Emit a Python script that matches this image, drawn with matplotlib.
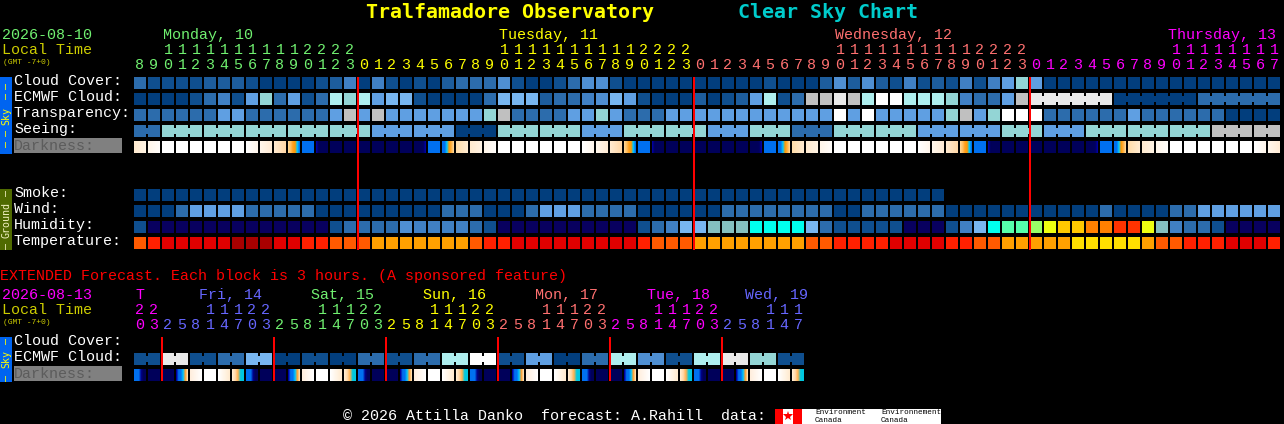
import numpy as np
import matplotlib
matplotlib.use('Agg')
import matplotlib.pyplot as plt
from matplotlib.colors import LinearSegmentedColormap

# colour indexes used by the sky/ground rows
BLOCK_COLORS = ['#023E7D', '#0F4F8F', '#1D5D9D', '#2C6CAC', '#4080C4', '#4F8FD2', '#5F9FE2',
                '#78B6F0', '#93D5D5', '#AEEEEE', '#E9E9E9', '#C0C0C0', '#FFFFFF', '#08005F',
                '#84BFBF', '#00FFEE', '#55FFAA', '#99FF66', '#EEFF11', '#FFC800', '#FF8000', '#FF3300']
TEMP_COLORS = ['#A80000', '#E00000', '#FF2000', '#FF5A00', '#FFA000', '#FFDF00']

GREEN = '#70F070'
YELLOW = '#FFFF00'
SALMON = '#FF7070'
MAGENTA = '#FF00FF'
BLUE = '#6666FF'

# main chart, one value per hour
CLOUD_COVER = [3, 1, 1, 1, 1, 2, 2, 2, 1, 0, 0, 0, 0, 1, 2, 4, 0, 4, 1, 0, 1,
               0, 2, 3, 3, 3, 5, 1, 0, 0, 1, 3, 5, 5, 1, 0, 0, 0, 0, 0, 0, 0, 0, 0, 0, 1, 0, 0, 0, 2, 5, 2,
               5, 2, 1, 4, 1, 2, 1, 4, 1, 4, 6, 8, 6, 0, 0, 0, 0, 0, 0, 0, 0, 0, 0, 0, 0, 0, 0, 0, 0, 0]
ECMWF_CLOUD = [0, 0, 0, 0, 1, 3, 4, 1, 6, 8, 3, 6, 1, 3, 9, 8, 9, 6, 7, 7, 1,
               0, 0, 0, 0, 3, 7, 7, 7, 2, 3, 3, 4, 5, 7, 6, 1, 0, 0, 0, 2, 0, 1, 2, 6, 9, 1, 3, 11, 11, 10, 11,
               9, 12, 12, 9, 9, 9, 8, 4, 3, 3, 6, 11, 10, 10, 10, 10, 10, 10, 0, 0, 0, 0, 0, 0, 3, 3, 3, 3, 3, 3]
ECMWF_SPANS = [1] * 64 + [6, 6, 6]
TRANSPARENCY = [3, 3, 3, 3, 3, 3, 6, 6, 3, 3, 3, 3, 3, 3, 6, 11, 6, 11, 6, 6, 6,
                6, 6, 6, 6, 8, 11, 3, 3, 3, 3, 6, 6, 8, 6, 3, 3, 3, 6, 6, 6, 6, 6, 6, 6, 6, 6, 6, 6, 6, 12, 6,
                12, 6, 6, 6, 6, 6, 8, 11, 6, 8, 12, 12, 12, 3, 3, 3, 3, 3, 3, 6, 3, 3, 3, 3, 3, 3, 0, 0, 0, 0]
# seeing comes in 3 hour groups
SEEING = [3, 8, 8, 8, 8, 8, 6, 6, 0, 8, 8, 6, 8, 8, 6, 8, 3, 8, 8, 6, 6, 8, 6, 8, 8, 8, 11, 11]
SEEING_SPANS = [2] + [3] * 26 + [2]
SMOKE = [0] * 58
WIND = [0, 0, 0, 3, 6, 6, 6, 6, 3, 3, 3, 3, 3, 0, 0, 0, 0, 0, 0, 0, 0,
        0, 3, 3, 3, 0, 0, 0, 3, 6, 6, 6, 3, 3, 3, 3, 0, 0, 0, 0, 0, 0, 3, 3, 3, 3, 3, 3, 3, 3, 0, 0,
        3, 3, 3, 3, 3, 3, 0, 0, 0, 0, 0, 0, 0, 0, 0, 0, 0, 3, 0, 0, 0, 0, 3, 3, 6, 6, 6, 6, 6, 6]
HUMIDITY = [1, 13, 13, 13, 13, 13, 13, 13, 13, 13, 13, 13, 13, 13, 1, 3, 3, 3, 3, 5, 4,
            4, 4, 4, 3, 1, 13, 13, 13, 13, 13, 13, 13, 13, 13, 13, 1, 3, 4, 7, 7, 14, 14, 14, 15, 15, 15, 15, 7, 3, 1, 1,
            1, 1, 1, 13, 13, 13, 1, 4, 7, 15, 16, 16, 17, 18, 19, 19, 20, 20, 21, 21, 18, 14, 4, 3, 3, 1, 13, 13, 13, 13]
TEMPERATURE = [3, 2, 1, 1, 1, 1, 1, 0, 0, 0, 1, 1, 2, 2, 3, 3, 3, 4, 4, 4, 4,
               4, 4, 4, 3, 2, 2, 1, 1, 1, 1, 1, 1, 1, 1, 1, 2, 3, 3, 3, 4, 4, 4, 4, 4, 4, 4, 4, 3, 3, 2, 2,
               2, 2, 1, 1, 1, 1, 2, 2, 3, 3, 4, 4, 4, 4, 4, 5, 5, 5, 5, 5, 4, 3, 3, 2, 2, 2, 1, 1, 1, 2]

# each darkness block is a little left to right ramp
DARK_RAMPS = [
    ['#FFFFFF', '#FFFFFF'],
    ['#FFDDAA', '#FFEBD0'],
    ['#FFEBD0', '#FFF3E3'],
    ['#FFF6EA', '#FFFDFA'],
    ['#FFFFFF', '#FFF6EC'],
    ['#FFF6EC', '#FFECD5'],
    ['#FFEAD0', '#FFD8A8'],
    ['#FFD490', '#FFC060', '#FFA020', '#FF9900', '#00C8FF', '#0070F0'],
    ['#0070F0', '#0070F0'],
    ['#0000A0', '#000058', '#00005A', '#00005A', '#00005A', '#00005A'],
    ['#00005A', '#00005A'],
    ['#00005A', '#00005A', '#00005A', '#00005A', '#000060', '#0000A0'],
    ['#0070F0', '#0070F0', '#00C8FF', '#FF9900', '#FFB040', '#FFD490'],
    ['#0070F0', '#0070F0', '#0070F0', '#00008C', '#00005A', '#00005A'],
    ['#0000A0', '#0070F0', '#0070F0', '#00C8FF', '#FFA030', '#FFDDAA'],
    ['#FFEEDD', '#FFFFFF'],
    ['#FFFFFF', '#FFEBD0'],
    ['#FFEBD0', '#FFD8A8', '#FFB050', '#00C8E0', '#00C8E0'],
]
DARKNESS = [2, 3, 0, 0, 0, 0, 0, 0, 4, 5, 6, 7, 8, 9, 10, 10, 10, 10, 10, 10, 11, 8, 12, 1,
            2, 3, 0, 0, 0, 0, 0, 0, 4, 5, 6, 7, 8, 9, 10, 10, 10, 10, 10, 10, 11, 8, 12, 1,
            2, 3, 0, 0, 0, 0, 0, 0, 4, 5, 6, 7, 8, 9, 10, 10, 10, 10, 10, 10, 11, 8, 12, 1,
            2, 3, 0, 0, 0, 0, 0, 0, 4, 5]

# hours shown per day: label, colour, label x, first hour, last hour
DAYS = [('Monday, 10', GREEN, 163, 8, 23),
        ('Tuesday, 11', YELLOW, 499, 0, 23),
        ('Wednesday, 12', SALMON, 835, 0, 23),
        ('Thursday, 13', MAGENTA, 1168, 0, 17)]
MIDNIGHTS = [16, 40, 64]

# extended forecast, one value per 6 hours (two blocks)
EXT_ECMWF = [1, 10, 1, 3, 7, 0, 1, 0, 3, 1, 3, 9, 12, 1, 6, 0, 3, 9, 5, 1, 9, 10, 8, 1]
EXT_DARKNESS = [13, 10, 10, 14, 15, 0, 16, 17] * 6
EXT_DAYS = [('T', MAGENTA, 135, 20, 2),
            ('Fri, 14', BLUE, 199, 2, 8),
            ('Sat, 15', GREEN, 311, 2, 8),
            ('Sun, 16', YELLOW, 423, 2, 8),
            ('Mon, 17', SALMON, 535, 2, 8),
            ('Tue, 18', MAGENTA, 647, 2, 8),
            ('Wed, 19', BLUE, 745, 2, 6)]
EXT_MIDNIGHTS = [2, 10, 18, 26, 34, 42]

LEFT = 134
PITCH = 14
SIZE = 12

plt.rcParams['font.family'] = ['Liberation Mono', 'DejaVu Sans Mono']
fig = plt.figure(figsize=(12.84, 4.24), dpi=100, facecolor='black')
ax = fig.add_axes([0, 0, 1, 1])
ax.set_facecolor('black')
ax.axis('off')


def put(x, y, s, color='white', px=15, **kw):
    kw.setdefault('va', 'center')
    ax.text(x, y, s, color=color, fontsize=px * 0.72, **kw)


def block_row(top, values, colors, spans=None):
    xs = LEFT + PITCH * np.arange(len(values))
    ax.bar(xs, SIZE, width=SIZE, bottom=top, align='edge', linewidth=0, antialiased=False,
           color=[colors[v] for v in values])
    if spans is None:
        return
    # blocks in one span are linked by a narrow neck
    start = 0
    for span in spans:
        for i in range(start, start + span - 1):
            ax.bar(xs[i] + SIZE, SIZE - 6, width=PITCH - SIZE, bottom=top + 3, align='edge',
                   linewidth=0, antialiased=False, color=colors[values[i]])
        start += span


def dark_row(top, kinds):
    for i, kind in enumerate(kinds):
        cmap = LinearSegmentedColormap.from_list('ramp', DARK_RAMPS[kind])
        strip = cmap(np.linspace(0, 1, SIZE))[None, :, :]
        x = LEFT + PITCH * i
        ax.imshow(strip, extent=(x, x + SIZE, top + SIZE, top), aspect='auto', interpolation='nearest')


def red_lines(cols, top, bottom):
    xs = [LEFT + PITCH * c - 1 for c in cols]
    ax.bar(xs, bottom - top, width=2, bottom=top, align='edge', linewidth=0, antialiased=False,
           color='#FF0000', zorder=5)


def side_bar(top, bottom, color, name, name_y, dashes, text_color):
    ax.bar(0, bottom - top, width=12, bottom=top, align='edge', linewidth=0, antialiased=False, color=color)
    put(6, name_y, name, text_color, px=10, rotation=90, ha='center', family='DejaVu Sans Mono')
    for y in dashes:
        put(6, y, '\u2014', text_color, px=10, rotation=90, ha='center', family='DejaVu Sans Mono')


def dark_label(y):
    ax.bar(14, 15, width=108, bottom=y - 7.5, align='edge', linewidth=0, antialiased=False, color='#808080')
    put(14, y, 'Darkness:', '#5C5C5C')


# title
put(366, 12, 'Tralfamadore Observatory', YELLOW, px=20, fontweight='bold', family='DejaVu Sans Mono')
put(738, 12, 'Clear Sky Chart', '#00CCCC', px=20, fontweight='bold', family='DejaVu Sans Mono')

# left header
put(2, 35, '2026-08-10', GREEN)
put(2, 50, 'Local Time', '#CCCC00')
put(3, 62, '(GMT -7+0)', '#CCCC00', px=8)

# day names and hour digits
col = 0
for label, color, x, first, last in DAYS:
    put(x, 35, label, color)
    for hour in range(first, last + 1):
        cx = LEFT + PITCH * col + SIZE / 2
        if hour >= 10:
            put(cx, 50, str(hour // 10), color, ha='center')
        put(cx, 65, str(hour % 10), color, ha='center')
        col += 1

# sky rows
block_row(77, CLOUD_COVER, BLOCK_COLORS)
block_row(93, ECMWF_CLOUD, BLOCK_COLORS, ECMWF_SPANS)
block_row(109, TRANSPARENCY, BLOCK_COLORS)
block_row(125, np.repeat(SEEING, SEEING_SPANS).tolist(), BLOCK_COLORS, SEEING_SPANS)
dark_row(141, DARKNESS)
for y, name in zip([81, 97, 113, 129], ['Cloud Cover:', 'ECMWF Cloud:', 'Transparency:', 'Seeing:']):
    put(14, y, name)
dark_label(145.5)
side_bar(77, 154, '#0064F0', 'Sky', 116, [86, 96, 133, 144], YELLOW)

# ground rows
block_row(189, SMOKE, BLOCK_COLORS)
block_row(205, WIND, BLOCK_COLORS)
block_row(221, HUMIDITY, BLOCK_COLORS)
block_row(237, TEMPERATURE, TEMP_COLORS)
for y, name in zip([193, 209, 225, 241], ['Smoke:', 'Wind:', 'Humidity:', 'Temperature:']):
    put(14, y, name)
side_bar(189, 250, '#4F6A00', 'Ground', 220, [193, 246], '#F0F0C0')
red_lines(MIDNIGHTS, 77, 250)

# extended forecast
put(0, 276, 'EXTENDED Forecast. Each block is 3 hours. (A sponsored feature)', '#FF0000')
put(2, 295, '2026-08-13', MAGENTA)
put(2, 310, 'Local Time', '#CCCC00')
put(3, 322, '(GMT -7+0)', '#CCCC00', px=8)
col = 0
for label, color, x, first, count in EXT_DAYS:
    put(x, 295, label, color)
    for k in range(count):
        hour = first + 3 * k
        cx = LEFT + PITCH * col + SIZE / 2
        if hour >= 10:
            put(cx, 310, str(hour // 10), color, ha='center')
        put(cx, 325, str(hour % 10), color, ha='center')
        col += 1

block_row(353, np.repeat(EXT_ECMWF, 2).tolist(), BLOCK_COLORS, [2] * len(EXT_ECMWF))
dark_row(369, EXT_DARKNESS)
put(14, 341, 'Cloud Cover:')
put(14, 357, 'ECMWF Cloud:')
dark_label(373.5)
side_bar(337, 382, '#0064F0', 'Sky', 359, [341, 378], YELLOW)
red_lines(EXT_MIDNIGHTS, 337, 381)

# footer and the flag logo
put(343, 416, '\u00a9 2026 Attilla Danko  forecast: A.Rahill  data:')
ax.bar(775, 15, width=166, bottom=409, align='edge', linewidth=0, antialiased=False, color='white')
ax.bar([775, 793], 15, width=[8, 9], bottom=409, align='edge', linewidth=0, antialiased=False, color='#FF0000')
ax.plot([788], [416], marker='*', color='#FF0000', markersize=7, markeredgewidth=0)
for x, word in [(815, 'Environment'), (881, 'Environnement')]:
    put(x, 412.5, word, 'black', px=7.7)
    put(x, 420, 'Canada', 'black', px=7.7)

ax.set_xlim(0, 1284)
ax.set_ylim(424, 0)
fig.savefig('out.png', dpi=100, facecolor='black')
